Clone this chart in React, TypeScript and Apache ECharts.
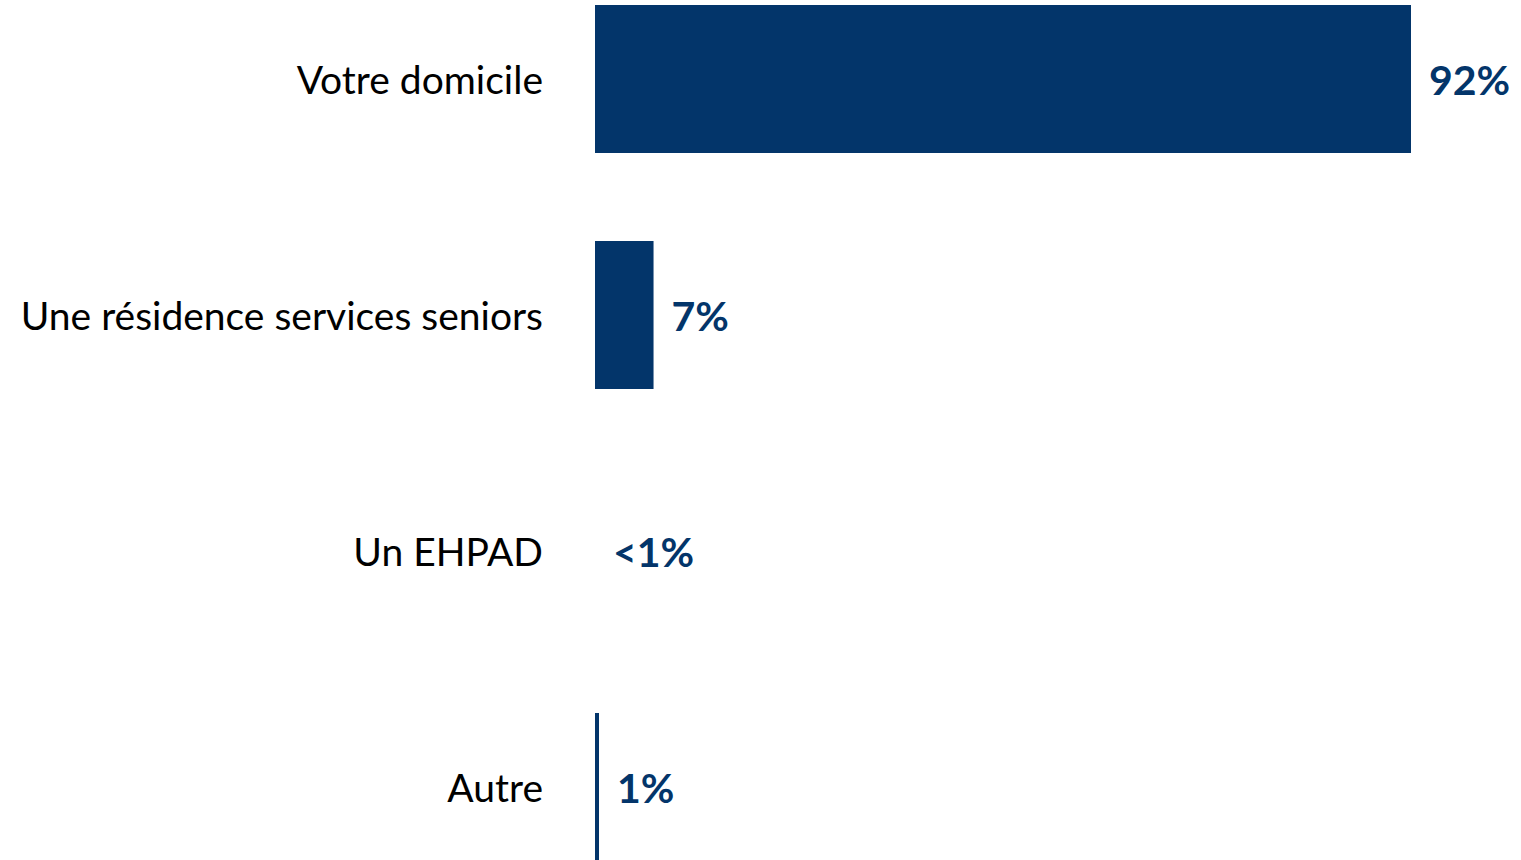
import React, { useEffect, useRef } from "react";
import * as echarts from "echarts";

const categories = ["Votre domicile", "Une résidence services seniors", "Un EHPAD", "Autre"];
const values = [92, 6.6, 0, 0.45];
const valueLabels = ["92%", "7%", "<1%", "1%"];

const BAR_COLOR = "#03356A";

export default function App() {
  const ref = useRef<HTMLDivElement>(null);
  useEffect(() => {
    if (!ref.current) return;
    const chart = echarts.init(ref.current, null, { renderer: "svg" });
    chart.setOption({
      animation: false,
      grid: { left: 595, right: 1521 - 595 - (816 * 100) / 92, top: 0, bottom: 0, containLabel: false },
      xAxis: {
        type: "value",
        min: 0,
        max: 100,
        show: false,
      },
      yAxis: {
        type: "category",
        inverse: true,
        data: categories,
        axisLine: { show: false },
        axisTick: { show: false },
        splitLine: { show: false },
        axisLabel: {
          margin: 52,
          color: "#000000",
          fontFamily: "Lato",
          fontSize: 39,
        },
      },
      series: [
        {
          type: "bar",
          data: values,
          barWidth: 148,
          itemStyle: { color: BAR_COLOR },
          label: {
            show: true,
            position: "right",
            distance: 18,
            color: BAR_COLOR,
            fontFamily: "Lato",
            fontWeight: "bold",
            fontSize: 41,
            formatter: (p: any) => valueLabels[p.dataIndex],
          },
        },
      ],
    });
    return () => chart.dispose();
  }, []);
  return (
    <div style={{ position: "fixed", left: 0, top: 0, width: 1521, height: 860, overflow: "hidden", background: "#ffffff" }}>
      <div ref={ref} style={{ position: "absolute", left: 0, top: -39, width: 1521, height: 944 }} />
    </div>
  );
}
